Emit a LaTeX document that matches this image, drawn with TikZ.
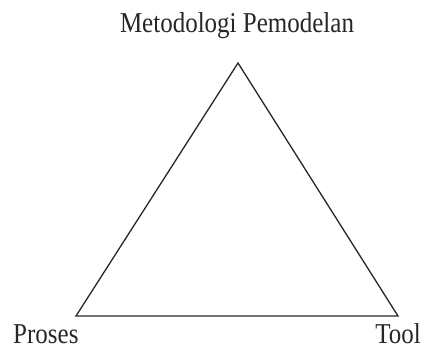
\documentclass[tikz,border=0pt]{standalone}
\usepackage{fontspec}
\setmainfont{Liberation Serif}
\begin{document}
\begin{tikzpicture}[x=1pt,y=1pt,
  lbl/.style={inner sep=0pt,font=\fontsize{25}{30}\selectfont,text=black!85,yscale=1.15,transform shape},
  edge/.style={draw=black!85,line width=1.3pt,line join=miter}]
\useasboundingbox (0,0) rectangle (425,349);
\coordinate (top) at (238,286);
\coordinate (bl) at (76,33);
\coordinate (br) at (398,33);
\draw[edge] (top) -- (bl) -- (br) -- cycle;
\node[lbl,anchor=base] (m) at (237,317) {Metodologi Pemodelan};
\node[lbl,anchor=base west,text depth=0pt] (p) at (13,6) {Proses};
\node[lbl,anchor=base east,text depth=0pt] (t) at (421,6) {Tool};
\end{tikzpicture}
\end{document}
